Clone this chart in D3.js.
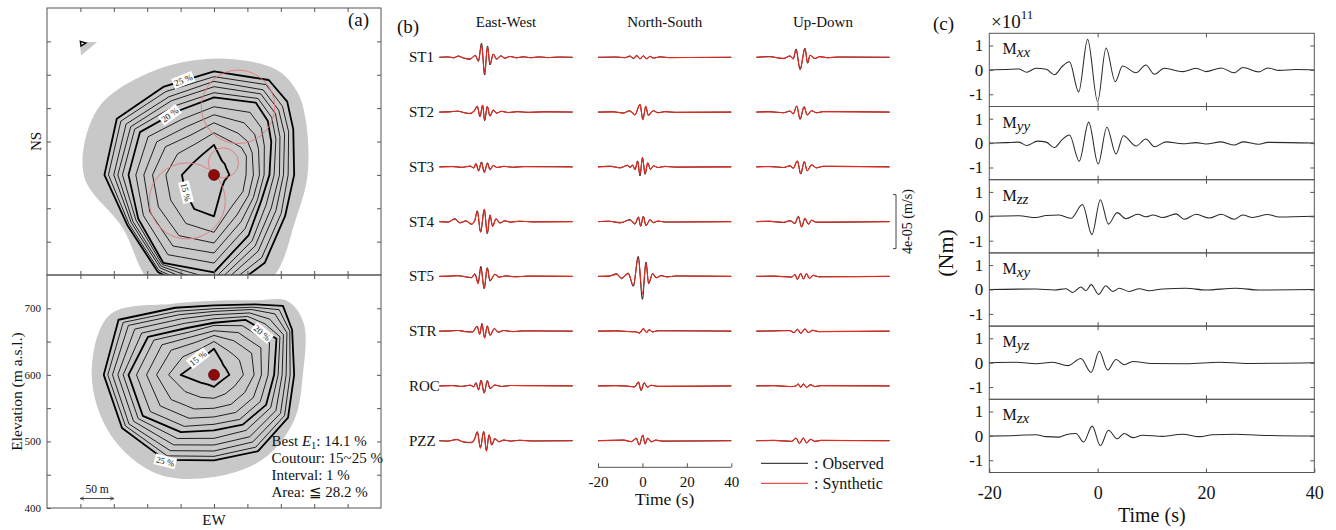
<!DOCTYPE html>
<html><head><meta charset="utf-8">
<script src="https://cdn.jsdelivr.net/npm/d3@7"></script>
<style>
body{margin:0;background:#fff;}
svg{display:block;font-family:"Liberation Serif","Times New Roman",serif;}
</style>
</head><body>
<svg id="fig" width="1336" height="530"></svg>
<script>
// ---------- (a) misfit maps: E1 contours sampled along rays from the best source ----------
const dirAngles = [0, 30, 45, 60, 90, 120, 150, 180, 210, 240, 270, 300, 330];
const levels = [15, 16, 17, 18, 19, 20, 21, 22, 23, 24, 25];
const boldLevels = [15, 20, 25];

// plan view (EW x NS), ray lengths in metres, one row per E1 level
const planCentre = [250, 150];
const planRadii = [
  [45, 24, 23, 21, 23, 18, 23, 62, 59, 50, 48, 36, 35],
  [63, 56, 58, 56, 48, 50, 54, 86, 84, 75, 72, 63, 54],
  [78, 72, 71, 66, 59, 60, 69, 102, 105, 96, 92, 84, 69],
  [90, 90, 86, 77, 68, 68, 81, 117, 123, 111, 105, 99, 83],
  [102, 108, 100, 87, 75, 75, 93, 132, 138, 122, 117, 114, 96],
  [116, 125, 114, 99, 83, 81, 104, 146, 152, 131, 128, 128, 110],
  [123, 132, 122, 107, 90, 90, 114, 156, 155, 135, 137, 137, 119],
  [132, 140, 130, 114, 98, 99, 123, 165, 158, 140, 144, 144, 128],
  [140, 147, 137, 122, 104, 107, 132, 173, 161, 143, 150, 152, 135],
  [147, 156, 145, 129, 111, 116, 143, 180, 165, 147, 158, 161, 144],
  [155, 164, 155, 137, 120, 123, 152, 188, 168, 150, 164, 168, 152]
];
const planArea = [174, 183, 176, 159, 140, 140, 177, 210, 188, 158, 195, 200, 180];
const planIsland = [[49, 349], [75, 349], [51, 329]];
const planIslandContour = [[50, 350], [58, 347.5], [51, 343]];
const planCircles = [[286, 252, 55], [210, 111, 57], [264, 168, 22.5]];
const planLabels = [[204, 292, -22, "25 %"], [184, 240, -36, "20 %"], [208, 124, 76, "15 %"]];

// cross-section (EW x elevation)
const sectionCentre = [250, 600];
const sectionRadii = [
  [39, 23, 20, 20, 23, 15, 14, 18, 17, 23, 50, 32, 31],
  [50, 42, 42, 44, 44, 35, 33, 35, 39, 50, 68, 54, 44],
  [59, 59, 60, 65, 60, 53, 51, 50, 59, 74, 86, 74, 56],
  [66, 73, 74, 81, 71, 68, 65, 63, 75, 93, 101, 90, 66],
  [74, 85, 87, 96, 81, 80, 77, 74, 89, 110, 116, 104, 74],
  [78, 95, 98, 108, 90, 90, 86, 83, 99, 123, 128, 114, 81],
  [84, 101, 108, 114, 96, 98, 96, 95, 110, 131, 136, 125, 89],
  [90, 107, 118, 120, 102, 107, 107, 105, 121, 139, 144, 137, 97],
  [95, 113, 129, 126, 108, 115, 116, 114, 131, 147, 152, 148, 104],
  [99, 117, 138, 131, 114, 122, 125, 122, 140, 153, 159, 157, 110],
  [104, 122, 146, 135, 120, 128, 132, 128, 147, 159, 165, 165, 116]
];
const sectionArea = [111, 129, 156, 155, 133, 138, 146, 153, 171, 179, 183, 180, 123];
const sectionLabels = [[226, 625, -38, "15 %"], [322, 663, 40, "20 %"], [177, 470, 14, "25 %"]];
const elevationTicks = [400, 450, 500, 550, 600, 650, 700];
const horizontalTicks = [50, 100, 150, 200, 250, 300, 350, 400, 450];
const nsTicks = [50, 100, 150, 200, 250, 300, 350];
const summaryLines = ["Coutour: 15~25 %", "Interval: 1 %", "Area: \u2266 28.2 %"];

// ---------- (b) waveforms: [time s, observed, synthetic] in 1e-5 m/s ----------
const stations = ["ST1", "ST2", "ST3", "ST4", "ST5", "STR", "ROC", "PZZ"];
const components = ["East-West", "North-South", "Up-Down"];
const timeTicks = [-20, 0, 20, 40];

const ewTraces = [
  [[-20,0,0],[-16,0.03,0.02],[-13.5,-0.04,-0.03],[-11.5,0.1,0.08],[-8.9,-0.07,-0.06],[-6.2,-0.15,-0.12],[-3.8,0.15,0.12],[-2.4,-0.3,-0.25],[-1,1.04,0.9],[0.4,-1.31,-1.15],[1.7,0.84,0.8],[2.8,-0.57,-0.5],[4.3,0.25,0.22],[5.8,-0.15,-0.12],[7.7,0.12,0.1],[9.5,-0.07,-0.06],[11.8,0.07,0.06],[14.8,-0.04,-0.03],[17.8,0.04,0.03],[21,-0.03,-0.03],[25,0.03,0.02],[29,-0.02,-0.02],[34,0.02,0.02],[40,0,0]],
  [[-20,0,0],[-15,0.03,0.02],[-11.5,0.07,0.06],[-9,-0.04,-0.03],[-6.2,-0.12,-0.1],[-4.3,0.1,0.08],[-2.9,0.44,0.4],[-1.7,-0.35,-0.3],[-0.5,0.52,0.5],[0.4,-0.64,-0.58],[1.6,0.4,0.42],[2.8,-0.3,-0.28],[4.3,0.15,0.15],[5.8,-0.08,-0.08],[8,0.06,0.06],[11,-0.04,-0.03],[15,0.03,0.03],[20,-0.02,-0.02],[27,0.02,0.02],[40,0,0]],
  [[-20,0,0],[-14,0.03,0.02],[-10,-0.04,-0.03],[-6,0.05,0.05],[-4.5,-0.08,-0.1],[-3.5,0.25,0.2],[-2.3,-0.25,-0.32],[-1,0.37,0.3],[0.2,-0.37,-0.42],[1.7,0.3,0.25],[2.8,-0.2,-0.22],[4.3,0.1,0.1],[6,-0.05,-0.05],[9,0.04,0.04],[13,-0.03,-0.03],[18,0.02,0.02],[40,0,0]],
  [[-20,0,0],[-16,-0.04,-0.03],[-13,0.22,0.18],[-10.7,-0.1,-0.08],[-8,0.05,0.05],[-5.5,-0.2,-0.18],[-4,0.1,0.1],[-2.9,0.8,0.78],[-1.4,-0.77,-0.8],[0.25,0.9,0.92],[1.6,-0.9,-0.88],[2.8,0.47,0.5],[4,-0.35,-0.33],[5.5,0.2,0.2],[7.3,-0.1,-0.1],[9.5,0.06,0.06],[12,-0.04,-0.04],[16,0.03,0.03],[22,-0.02,-0.02],[40,0,0]],
  [[-20,0,0],[-15,0.03,0.02],[-11.5,0.05,0.05],[-8,-0.04,-0.03],[-5.5,-0.1,-0.08],[-4,0.2,0.15],[-2.5,-0.42,-0.55],[-1.3,0.74,0.6],[0.2,-0.91,-0.85],[1.6,0.64,0.62],[2.8,-0.35,-0.3],[5,0.15,0.15],[7,-0.05,-0.05],[10,0.04,0.04],[14,-0.03,-0.03],[20,0.02,0.02],[40,0,0]],
  [[-20,0,0],[-15,0.02,0.02],[-11.5,0.05,0.05],[-8,-0.04,-0.04],[-5,-0.06,-0.06],[-3,0.37,0.35],[-1.8,-0.2,-0.25],[-0.8,0.57,0.5],[0.4,-0.47,-0.52],[1.6,0.37,0.4],[2.8,-0.3,-0.3],[4.8,0.2,0.18],[6.5,-0.08,-0.08],[9,0.05,0.05],[13,-0.03,-0.03],[18,0.02,0.02],[40,0,0]],
  [[-20,0,0],[-14,0.03,0.02],[-10,-0.04,-0.03],[-6,0.06,0.05],[-4.5,-0.05,-0.08],[-3.5,0.25,0.2],[-2.3,-0.25,-0.3],[-1.2,0.44,0.4],[0.2,-0.5,-0.54],[1.6,0.4,0.35],[2.8,-0.17,-0.2],[5,0.07,0.07],[8,-0.04,-0.04],[12,0.03,0.03],[40,0,0]],
  [[-20,0,0],[-16,-0.03,-0.02],[-12.2,0.1,0.08],[-9.2,-0.1,-0.08],[-5.5,-0.15,-0.12],[-4.2,0.1,0.08],[-2.9,0.67,0.62],[-1.5,-0.5,-0.55],[0,0.67,0.7],[1.2,-0.74,-0.78],[2.4,0.42,0.45],[3.6,-0.32,-0.3],[5,0.15,0.15],[6.8,-0.08,-0.08],[9,0.05,0.05],[12,-0.03,-0.03],[16,0.03,0.03],[22,-0.02,-0.02],[40,0,0]]
];
const nsTraces = [
  [[-20,0,0],[-12,0.02,0.02],[-8,-0.03,-0.02],[-5.5,0.1,0.06],[-4.1,-0.1,-0.08],[-2.6,0.1,0.15],[-1.1,-0.12,-0.1],[0.45,0.12,0.1],[1.9,-0.1,-0.12],[3.4,0.08,0.06],[4.9,-0.05,-0.05],[8,0.03,0.03],[12,-0.02,-0.02],[40,0,0]],
  [[-20,0,0],[-13,0.02,0.02],[-8.6,-0.08,-0.06],[-5.9,0.1,0.08],[-4.5,-0.05,-0.05],[-3.4,-0.22,-0.2],[-1.1,0.57,0.55],[0.2,-0.54,-0.58],[1.5,0.4,0.45],[2.6,-0.22,-0.25],[4.9,0.1,0.1],[7,-0.05,-0.05],[10,0.03,0.03],[15,-0.02,-0.02],[40,0,0]],
  [[-20,0,0],[-14.5,0.05,0.04],[-10,-0.08,-0.06],[-6.7,0.12,0.1],[-5.6,-0.05,-0.04],[-4.5,0.15,0.12],[-3.3,-0.2,-0.2],[-2.2,0.44,0.4],[-1.1,-0.67,-0.6],[0,0.69,0.66],[1.2,-0.55,-0.5],[2.4,0.3,0.3],[3.6,-0.2,-0.18],[5,0.08,0.08],[7,-0.05,-0.05],[10,0.03,0.03],[15,-0.02,-0.02],[40,0,0]],
  [[-20,0,0],[-15,0.03,0.03],[-10,-0.1,-0.06],[-5.5,0.15,0.12],[-3.4,-0.2,-0.15],[-1.8,0.35,0.3],[-0.8,-0.35,-0.3],[0.4,0.4,0.35],[1.6,-0.3,-0.28],[3.4,0.15,0.12],[4.9,-0.08,-0.07],[7,0.04,0.04],[10,-0.03,-0.03],[40,0,0]],
  [[-20,0,0],[-15,0.03,0.02],[-11.6,0.2,0.15],[-9.4,-0.17,-0.12],[-6.4,0.25,0.2],[-4.1,-0.74,-0.65],[-1.9,1.48,1.35],[0,-1.7,-1.3],[1.6,1.06,1],[2.8,-0.54,-0.5],[4.6,0.2,0.2],[6.2,-0.1,-0.1],[8.5,0.06,0.06],[11,-0.04,-0.04],[15,0.03,0.03],[40,0,0]],
  [[-20,0,0],[-12,0.02,0.02],[-6,-0.03,-0.03],[-3,-0.05,-0.04],[-1.4,-0.15,-0.12],[0.45,0.2,0.17],[1.9,-0.1,-0.1],[3,0.12,0.1],[4.5,-0.05,-0.05],[7,0.03,0.03],[40,0,0]],
  [[-20,0,0],[-12,0.02,0.02],[-6,-0.03,-0.03],[-3.5,-0.08,-0.06],[-1.8,0.3,0.25],[-0.6,-0.35,-0.3],[0.75,0.25,0.22],[2.2,-0.1,-0.08],[4,0.05,0.05],[7,-0.03,-0.03],[40,0,0]],
  [[-20,0,0],[-13,0.03,0.02],[-8.5,0.05,0.04],[-5,-0.08,-0.06],[-2.8,0.2,0.15],[-1.4,-0.32,-0.3],[0.15,0.42,0.4],[1.2,-0.25,-0.22],[2.4,0.2,0.18],[4,-0.08,-0.08],[6,0.04,0.04],[9,-0.03,-0.03],[40,0,0]]
];
const udTraces = [
  [[-20,0,0],[-14,0.05,0.04],[-7.8,-0.1,-0.08],[-4.8,0.1,0.1],[-3.4,-0.12,-0.12],[-2.1,0.62,0.55],[-0.3,-0.89,-0.92],[1.9,0.67,0.6],[3.1,-0.44,-0.4],[4.2,0.15,0.15],[6.4,-0.1,-0.08],[8.6,0.05,0.05],[12,-0.03,-0.03],[17,0.02,0.02],[40,0,0]],
  [[-20,0,0],[-14,0.03,0.02],[-7.8,-0.05,-0.05],[-4.8,0.08,0.06],[-3.4,-0.15,-0.12],[-1.8,0.44,0.45],[-0.3,-0.54,-0.5],[1.5,0.4,0.38],[2.9,-0.22,-0.2],[4.9,0.1,0.1],[7.1,-0.05,-0.05],[10,0.03,0.03],[40,0,0]],
  [[-20,0,0],[-14,0.03,0.02],[-7.8,-0.05,-0.05],[-4.8,0.08,0.07],[-3.4,-0.1,-0.1],[-1.5,0.44,0.42],[0,-0.54,-0.5],[1.6,0.4,0.38],[2.9,-0.3,-0.28],[4.9,0.15,0.15],[7.1,-0.08,-0.07],[10,0.04,0.04],[40,0,0]],
  [[-20,0,0],[-14,0.03,0.02],[-7.8,-0.07,-0.05],[-4.8,0.07,0.06],[-2.6,-0.15,-0.12],[-1.1,0.4,0.35],[0.4,-0.4,-0.38],[1.9,0.22,0.25],[3.4,-0.2,-0.18],[4.9,0.1,0.1],[7,-0.05,-0.04],[40,0,0]],
  [[-20,0,0],[-12,0.02,0.02],[-4.1,-0.05,-0.05],[-2.6,0.15,0.12],[-1.5,-0.22,-0.2],[0,0.2,0.22],[1.2,-0.2,-0.18],[2.6,0.2,0.2],[3.9,-0.15,-0.15],[5.6,0.08,0.08],[8,-0.03,-0.03],[40,0,0]],
  [[-20,0,0],[-12,0.02,0.02],[-4.9,0.05,0.04],[-3,-0.12,-0.1],[-1.5,0.15,0.12],[0,-0.17,-0.15],[1.9,0.17,0.15],[3.4,-0.1,-0.1],[5.4,0.07,0.06],[8,-0.03,-0.03],[40,0,0]],
  [[-20,0,0],[-12,0.02,0.02],[-4.9,-0.05,-0.04],[-2.6,-0.03,-0.03],[-1.1,0.15,0.12],[0,-0.1,-0.1],[1.2,0.15,0.13],[2.6,-0.1,-0.1],[4.4,0.1,0.08],[6.4,-0.05,-0.05],[9,0.02,0.02],[40,0,0]],
  [[-20,0,0],[-12,0.02,0.02],[-4.1,-0.05,-0.05],[-2.1,0.2,0.18],[-0.6,-0.22,-0.2],[1.2,0.2,0.2],[2.6,-0.17,-0.16],[4.4,0.1,0.1],[6.4,-0.05,-0.05],[9,0.02,0.02],[40,0,0]]
];
const scaleBarAmp = 4; // 4e-05 m/s

// ---------- (c) moment tensor functions: [time s, moment x1e11 Nm] ----------
const momentLabels = ["xx", "yy", "zz", "xy", "yz", "zx"];
const mxx = [[-20,0],[-17,0.02],[-14.5,0.04],[-13.1,-0.1],[-11.4,0.07],[-9.5,0.03],[-8,-0.2],[-6.5,0.15],[-5.2,0.33],[-3.5,-0.9],[-1.85,1.25],[0,-1.3],[1.55,0.9],[3.25,-0.48],[4.6,0.16],[7.1,-0.12],[8.9,0.2],[10.5,-0.18],[12.3,0.07],[15.7,-0.07],[18.2,0.07],[20,-0.07],[22.8,0.08],[25.2,-0.12],[26.8,0.1],[29.8,-0.08],[31.4,0.08],[33.5,-0.02],[36.6,0.02],[40,0]];
const myy = [[-20,0],[-17,0.02],[-14.5,0.04],[-13.1,-0.1],[-11.1,0.08],[-9.5,0.04],[-8,-0.18],[-6.5,0.15],[-5.2,0.33],[-3.4,-0.74],[-1.65,0.86],[0.1,-0.86],[1.7,0.65],[3.4,-0.45],[4.75,0.3],[7.1,-0.12],[8.9,0.17],[10.5,-0.15],[12.6,0.05],[15.7,-0.03],[18.2,0.02],[20,-0.04],[22.8,0.05],[25.2,-0.08],[26.8,0.05],[29.8,-0.05],[31.4,0.03],[40,0]];
const mzz = [[-20,0],[-14.5,0.02],[-11.4,-0.05],[-9.5,0.03],[-7.1,0.05],[-4.9,-0.08],[-2.8,0.48],[-1.05,-0.75],[0.5,0.68],[2,-0.32],[3.6,0.15],[5.2,-0.1],[7.4,0.08],[8.9,-0.02],[10.2,0.05],[12,-0.05],[14.5,0.1],[16,-0.12],[18.2,0.08],[20.6,-0.07],[22.8,0.08],[25.2,-0.12],[26.8,0.05],[28.6,-0.05],[31.4,0.07],[33.5,-0.03],[40,0]];
const mxy = [[-20,0],[-11.4,0.02],[-8,-0.02],[-5.85,0.03],[-4.6,-0.12],[-3.1,0.1],[-2.15,-0.05],[-1.2,0.2],[0.2,-0.2],[1.5,0.15],[2.8,-0.08],[4,0.05],[5.85,-0.08],[7.7,0.03],[9.5,-0.05],[12,0.02],[16.3,0.05],[20,-0.02],[25.5,0.05],[29.8,-0.02],[40,0]];
const myz = [[-20,0],[-15,0.02],[-11.4,-0.04],[-8.3,0.02],[-5.5,-0.12],[-3.1,0.17],[-1.2,-0.4],[0.3,0.47],[1.85,-0.3],[3.4,0.13],[4.9,-0.08],[6.5,0.05],[10,-0.03],[16.3,-0.04],[22.5,0.02],[27.4,-0.03],[40,0]];
const mzx = [[-20,0],[-15,0.02],[-11.4,0.05],[-9.5,-0.03],[-7.1,-0.05],[-5.85,0.05],[-4,0.1],[-2.6,-0.25],[-1,0.4],[0.5,-0.4],[2,0.23],[3.6,-0.12],[4.9,0.1],[6.5,-0.07],[8.3,0.03],[12,-0.02],[15.7,0.07],[18.8,-0.03],[21.2,0.05],[25.5,0.07],[29.8,0.03],[40,0]];
const momentSeries = [mxx, myy, mzz, mxy, myz, mzx];
const momentTicks = [-1, 0, 1];

// ================= drawing =================
const svg = d3.select("#fig");
const ink = "#111", frameInk = "#555";
const obsColor = "#141414", synColor = "#e8281e";
const defs = svg.append("defs");

function styleAxis(g, size) {
  g.attr("font-family", null).attr("font-size", size);
  g.select(".domain").remove();
  g.selectAll(".tick line").attr("stroke", frameInk);
  g.selectAll(".tick text").attr("fill", ink);
}

// ----- (a) -----
const ax = d3.scaleLinear().domain([0, 500]).range([47, 381]);
const aNS = d3.scaleLinear().domain([0, 400]).range([275, 8]);
const aZ = d3.scaleLinear().domain([400, 750]).range([508, 275]);
const pxPerM = ax(1) - ax(0);

defs.append("clipPath").attr("id", "clipPlan").append("rect")
  .attr("x", ax(0)).attr("y", aNS(400)).attr("width", ax(500) - ax(0)).attr("height", aNS(0) - aNS(400));
defs.append("clipPath").attr("id", "clipSec").append("rect")
  .attr("x", ax(0)).attr("y", aZ(750)).attr("width", ax(500) - ax(0)).attr("height", aZ(400) - aZ(750));

const ringLine = d3.lineRadial().angle(d => d[0] * Math.PI / 180).radius(d => d[1] * pxPerM).curve(d3.curveLinearClosed);
const ringSmooth = d3.lineRadial().angle(d => d[0] * Math.PI / 180).radius(d => d[1] * pxPerM).curve(d3.curveCatmullRomClosed.alpha(0.5));

function contourLabel(g, px, py, rot, txt) {
  const lg = g.append("g").attr("transform", `translate(${px},${py}) rotate(${rot})`);
  const t = lg.append("text").attr("text-anchor", "middle").attr("dy", "0.35em")
    .attr("font-size", 9).attr("fill", ink).text(txt);
  const w = t.node().getComputedTextLength();
  lg.insert("rect", "text").attr("x", -w / 2 - 1.5).attr("y", -5.5).attr("width", w + 3).attr("height", 11).attr("fill", "#fff");
}

function drawMap(yScale, centre, radii, area, clipId) {
  const g = svg.append("g").attr("clip-path", `url(#${clipId})`);
  const cx = ax(centre[0]), cy = yScale(centre[1]);
  const rg = g.append("g").attr("transform", `translate(${cx},${cy})`);
  rg.append("path").attr("d", ringSmooth(dirAngles.map((a, i) => [a, area[i]]))).attr("fill", "#c8c8c8");
  radii.forEach((r, j) => {
    const bold = boldLevels.includes(levels[j]);
    rg.append("path").attr("d", ringLine(dirAngles.map((a, i) => [a, r[i]])))
      .attr("fill", "none").attr("stroke", "#000").attr("stroke-width", bold ? 1.8 : 0.85)
      .attr("stroke-linejoin", "round");
  });
  return g;
}

// plan view
const planG = drawMap(aNS, planCentre, planRadii, planArea, "clipPlan");
planG.append("path").attr("d", d3.line().x(d => ax(d[0])).y(d => aNS(d[1])).curve(d3.curveLinearClosed)(planIsland)).attr("fill", "#c8c8c8");
planG.append("path").attr("d", d3.line().x(d => ax(d[0])).y(d => aNS(d[1])).curve(d3.curveLinearClosed)(planIslandContour))
  .attr("fill", "#fff").attr("stroke", "#000").attr("stroke-width", 1.5);
planCircles.forEach(c => {
  planG.append("circle").attr("cx", ax(c[0])).attr("cy", aNS(c[1])).attr("r", c[2] * pxPerM)
    .attr("fill", "none").attr("stroke", "#e07a7a").attr("stroke-width", 0.9);
});
planLabels.forEach(l => contourLabel(planG, ax(l[0]), aNS(l[1]), l[2], l[3]));
planG.append("circle").attr("cx", ax(planCentre[0])).attr("cy", aNS(planCentre[1])).attr("r", 5.5)
  .attr("fill", "#8e0a0a").attr("stroke", "#3a0000").attr("stroke-width", 0.6);

// cross-section
const secG = drawMap(aZ, sectionCentre, sectionRadii, sectionArea, "clipSec");
sectionLabels.forEach(l => contourLabel(secG, ax(l[0]), aZ(l[1]), l[2], l[3]));
secG.append("circle").attr("cx", ax(sectionCentre[0])).attr("cy", aZ(sectionCentre[1])).attr("r", 5.5)
  .attr("fill", "#8e0a0a").attr("stroke", "#3a0000").attr("stroke-width", 0.6);

// frames and inward ticks
[[aNS, nsTicks, false], [aZ, elevationTicks, true]].forEach(([ys, yt, labelled]) => {
  const [y0, y1] = ys.range();
  svg.append("rect").attr("x", ax(0)).attr("y", y1).attr("width", ax(500) - ax(0)).attr("height", y0 - y1)
    .attr("fill", "none").attr("stroke", frameInk).attr("stroke-width", 1);
  const left = svg.append("g").attr("transform", `translate(${ax(0)},0)`)
    .call(d3.axisLeft(ys).tickValues(yt).tickSizeInner(-4).tickSizeOuter(0).tickPadding(6)
      .tickFormat(d => labelled && d % 100 === 0 ? String(d) : ""));
  styleAxis(left, 11);
  const right = svg.append("g").attr("transform", `translate(${ax(500)},0)`)
    .call(d3.axisRight(ys).tickValues(yt.filter(v => v > ys.domain()[0])).tickSizeInner(-4).tickSizeOuter(0).tickFormat(""));
  styleAxis(right, 11);
  const top = svg.append("g").attr("transform", `translate(0,${y1})`)
    .call(d3.axisTop(ax).tickValues(horizontalTicks).tickSizeInner(-4).tickSizeOuter(0).tickFormat(""));
  styleAxis(top, 11);
  const bottom = svg.append("g").attr("transform", `translate(0,${y0})`)
    .call(d3.axisBottom(ax).tickValues(horizontalTicks).tickSizeInner(-4).tickSizeOuter(0).tickFormat(""));
  styleAxis(bottom, 11);
});

svg.append("text").attr("x", 348).attr("y", 26).attr("font-size", 19).attr("fill", ink).text("(a)");
svg.append("text").attr("transform", `translate(41,${(aNS(0) + aNS(400)) / 2}) rotate(-90)`)
  .attr("text-anchor", "middle").attr("font-size", 15).attr("fill", ink).text("NS");
svg.append("text").attr("transform", `translate(22,${aZ(575)}) rotate(-90)`)
  .attr("text-anchor", "middle").attr("font-size", 15.5).attr("fill", ink).text("Elevation (m a.s.l.)");
svg.append("text").attr("x", ax(250)).attr("y", 525).attr("text-anchor", "middle")
  .attr("font-size", 15).attr("fill", ink).text("EW");

// 50 m scale bar
defs.append("marker").attr("id", "arrowHead").attr("viewBox", "0 0 10 10").attr("refX", 9).attr("refY", 5)
  .attr("markerWidth", 5).attr("markerHeight", 5).attr("orient", "auto-start-reverse")
  .append("path").attr("d", "M0,1 L10,5 L0,9").attr("fill", "none").attr("stroke", "#333").attr("stroke-width", 1.5);
svg.append("line").attr("x1", ax(50)).attr("x2", ax(100)).attr("y1", 498.5).attr("y2", 498.5)
  .attr("stroke", "#333").attr("stroke-width", 0.9)
  .attr("marker-start", "url(#arrowHead)").attr("marker-end", "url(#arrowHead)");
svg.append("text").attr("x", ax(75)).attr("y", 493).attr("text-anchor", "middle")
  .attr("font-size", 11.5).attr("fill", ink).text("50 m");

// summary text
const best = svg.append("text").attr("x", 271.5).attr("y", 446).attr("font-size", 15).attr("fill", ink);
best.append("tspan").text("Best ");
best.append("tspan").attr("font-style", "italic").text("E");
best.append("tspan").attr("font-size", 10.5).attr("dy", 3).text("1");
best.append("tspan").attr("dy", -3).text(": 14.1 %");
summaryLines.forEach((s, i) => {
  svg.append("text").attr("x", 271.5).attr("y", 463 + i * 17).attr("font-size", 15).attr("fill", ink).text(s);
});

// ----- (b) -----
const colLeft = [439.3, 598, 756.3];
const colX = colLeft.map(l => d3.scaleLinear().domain([-20, 40]).range([l, l + 133.3]));
const rowY = d3.scalePoint().domain(stations).range([57.3, 440.7]);
const amp = d3.scaleLinear().domain([-1, 1]).range([13.5, -13.5]);
const allTraces = [ewTraces, nsTraces, udTraces];

allTraces.forEach((traces, c) => {
  const xs = colX[c];
  traces.forEach((tr, s) => {
    const base = rowY(stations[s]);
    const mk = k => d3.line().x(d => xs(d[0])).y(d => base + amp(d[k])).curve(d3.curveMonotoneX);
    svg.append("path").attr("d", mk(1)(tr)).attr("fill", "none").attr("stroke", obsColor).attr("stroke-width", 1);
    svg.append("path").attr("d", mk(2)(tr)).attr("fill", "none").attr("stroke", synColor).attr("stroke-width", 1.15);
  });
  svg.append("text").attr("x", xs(10)).attr("y", 27).attr("text-anchor", "middle")
    .attr("font-size", 15).attr("fill", ink).text(components[c]);
});
stations.forEach(s => {
  svg.append("text").attr("x", 409).attr("y", rowY(s) + 5).attr("font-size", 15).attr("fill", ink).text(s);
});
svg.append("text").attr("x", 397).attr("y", 33).attr("font-size", 19).attr("fill", ink).text("(b)");

// time axis under the North-South column
const bAxis = svg.append("g").attr("transform", "translate(0,467.3)")
  .call(d3.axisBottom(colX[1]).tickValues(timeTicks).tickSizeInner(-4).tickSizeOuter(0).tickPadding(9).tickFormat(d => String(d)));
styleAxis(bAxis, 15);
svg.append("line").attr("x1", colX[1](-20)).attr("x2", colX[1](40)).attr("y1", 467.3).attr("y2", 467.3)
  .attr("stroke", frameInk).attr("stroke-width", 1);
svg.append("text").attr("x", colX[1](10)).attr("y", 505).attr("text-anchor", "middle")
  .attr("font-size", 17.5).attr("fill", ink).text("Time (s)");

// amplitude scale bar
const barTop = rowY("ST4") + amp(scaleBarAmp / 2), barBot = rowY("ST4") + amp(-scaleBarAmp / 2);
svg.append("path").attr("d", `M893,${barTop}H896V${barBot}H893`).attr("fill", "none")
  .attr("stroke", "#444").attr("stroke-width", 1);
svg.append("text").attr("transform", `translate(912,${(barTop + barBot) / 2}) rotate(-90)`)
  .attr("text-anchor", "middle").attr("font-size", 14).attr("fill", ink).text("4e-05 (m/s)");

// legend
[[obsColor, ": Observed", 463.3], [synColor, ": Synthetic", 483.3]].forEach(([col, txt, y]) => {
  svg.append("line").attr("x1", 761).attr("x2", 808).attr("y1", y).attr("y2", y).attr("stroke", col).attr("stroke-width", 1);
  svg.append("text").attr("x", 814).attr("y", y + 5.5).attr("font-size", 16).attr("fill", ink).text(txt);
});

// ----- (c) -----
const cx = d3.scaleLinear().domain([-20, 40]).range([989.3, 1314.3]);
const cTop = 33.3, cH = 73.2;
momentSeries.forEach((series, i) => {
  const y = d3.scaleLinear().domain([-1.5, 1.5]).range([cTop + cH * (i + 1), cTop + cH * i]);
  svg.append("path").attr("d", d3.line().x(d => cx(d[0])).y(d => y(d[1])).curve(d3.curveMonotoneX)(series))
    .attr("fill", "none").attr("stroke", "#2a2a2a").attr("stroke-width", 1.05);
  svg.append("rect").attr("x", cx(-20)).attr("y", cTop + cH * i).attr("width", cx(40) - cx(-20)).attr("height", cH)
    .attr("fill", "none").attr("stroke", frameInk).attr("stroke-width", 1);
  const la = svg.append("g").attr("transform", `translate(${cx(-20)},0)`)
    .call(d3.axisLeft(y).tickValues(momentTicks).tickSizeInner(-4).tickSizeOuter(0).tickPadding(6).tickFormat(d => String(d)));
  styleAxis(la, 17);
  const ra = svg.append("g").attr("transform", `translate(${cx(40)},0)`)
    .call(d3.axisRight(y).tickValues(momentTicks).tickSizeInner(-4).tickSizeOuter(0).tickFormat(""));
  styleAxis(ra, 17);
  const ta = svg.append("g").attr("transform", `translate(0,${cTop + cH * i})`)
    .call(d3.axisTop(cx).tickValues([0, 20]).tickSizeInner(-4).tickSizeOuter(0).tickFormat(""));
  styleAxis(ta, 17);
  const ba = svg.append("g").attr("transform", `translate(0,${cTop + cH * (i + 1)})`)
    .call(d3.axisBottom(cx).tickValues(i === 5 ? timeTicks : [0, 20]).tickSizeInner(-4).tickSizeOuter(0).tickPadding(14)
      .tickFormat(d => i === 5 ? String(d) : ""));
  styleAxis(ba, 18);
  const lbl = svg.append("text").attr("x", 1002.5).attr("y", cTop + cH * i + 21).attr("fill", ink);
  lbl.append("tspan").attr("font-size", 16).text("M");
  lbl.append("tspan").attr("font-size", 15).attr("font-style", "italic").attr("dy", 3).text(momentLabels[i]);
});
svg.append("text").attr("x", 933).attr("y", 30).attr("font-size", 19).attr("fill", ink).text("(c)");
const mult = svg.append("text").attr("x", 991).attr("y", 28).attr("fill", ink);
mult.append("tspan").attr("font-size", 19).text("\u00d710");
mult.append("tspan").attr("font-size", 13).attr("dy", -9).text("11");
svg.append("text").attr("transform", `translate(953,${cTop + cH * 3}) rotate(-90)`)
  .attr("text-anchor", "middle").attr("font-size", 22).attr("fill", ink).text("(Nm)");
svg.append("text").attr("x", cx(10)).attr("y", 522).attr("text-anchor", "middle")
  .attr("font-size", 20).attr("fill", ink).text("Time (s)");
</script>
</body></html>
